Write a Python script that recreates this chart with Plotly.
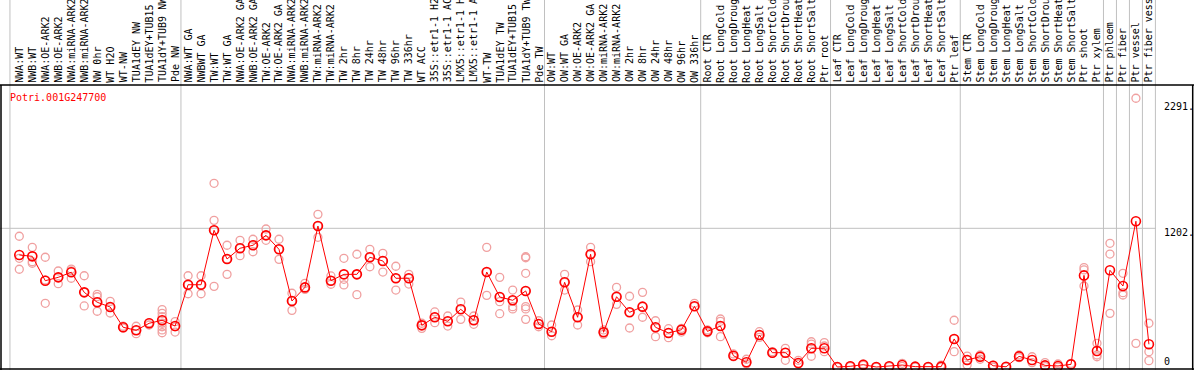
import plotly.graph_objects as go

gene_id = "Potri.001G247700"

categories = [
    "NWA:WT", "NWB:WT", "NWA:OE-ARK2", "NWB:OE-ARK2", "NWA:miRNA-ARK2", "NWB:miRNA-ARK2",
    "NW 0hr", "WT H2O", "WT-NW", "TUA1dEY NW", "TUA1dEY+TUB15", "TUA1dY+TUB9 NW", "Pde NW",
    "NWA:WT GA", "NWBWT GA", "TW:WT", "TW:WT GA", "NWA:OE-ARK2 GA", "NWB:OE-ARK2 GA",
    "TW:OE-ARK2", "TW:OE-ARK2 GA", "NWA:miRNA-ARK2", "NWB:miRNA-ARK2", "TW:miRNA-ARK2",
    "TW:miRNA-ARK2", "TW 2hr", "TW 8hr", "TW 24hr", "TW 48hr", "TW 96hr", "TW 336hr",
    "WT ACC", "35S::etr1-1 H2", "35S::etr1-1 AC", "LMX5::etr1-1 H", "LMX5::etr1-1 A",
    "WT-TW", "TUA1dEY TW", "TUA1dEY+TUB15", "TUA1dY+TUB9 TW", "Pde TW",
    "OW:WT", "OW:WT GA", "OW:OE-ARK2", "OW:OE-ARK2 GA", "OW:miRNA-ARK2", "OW:miRNA-ARK2",
    "OW 2hr", "OW 8hr", "OW 24hr", "OW 48hr", "OW 96hr", "OW 336hr",
    "Root CTR", "Root LongCold", "Root LongDroug", "Root LongHeat", "Root LongSalt",
    "Root ShortCold", "Root ShortDrou", "Root ShortHeat", "Root ShortSalt", "Ptr root",
    "Leaf CTR", "Leaf LongCold", "Leaf LongDroug", "Leaf LongHeat", "Leaf LongSalt",
    "Leaf ShortCold", "Leaf ShortDrou", "Leaf ShortHeat", "Leaf ShortSalt", "Ptr leaf",
    "Stem CTR", "Stem LongCold", "Stem LongDroug", "Stem LongHeat", "Stem LongSalt",
    "Stem ShortCold", "Stem ShortDrou", "Stem ShortHeat", "Stem ShortSalt",
    "Ptr shoot", "Ptr xylem", "Ptr phloem", "Ptr fiber", "Ptr vessel", "Ptr fiber vess",
]

mean_values = [
    971, 959, 748, 777, 821, 647, 561, 520, 344, 318, 379, 405, 355,
    713, 713, 1185, 936, 1029, 1055, 1141, 1020, 572, 690, 1222, 748,
    803, 803, 951, 919, 769, 769, 361, 431, 396, 500, 405, 823, 607,
    578, 659, 373, 306, 734, 431, 977, 301, 609, 474, 523, 344, 295,
    323, 526, 309, 355, 98, 41, 277, 124, 124, 35, 162, 162,
    0, 6, 20, 0, 6, 17, 3, 0, 3, 243,
    61, 89, 11, 2, 92, 61, 14, 9, 23,
    794, 139, 838, 702, 1263, 197,
]

replicate_values = [
    [1133, 942, 847], [1037, 913, 899], [951, 754, 552], [832, 777, 722],
    [849, 832, 769], [791, 647, 529], [630, 609, 561, 483], [569, 520, 468],
    [353, 338], [353, 318, 289], [384, 364], [497, 465, 436, 407, 379, 349, 321, 297],
    [393, 349, 303], [791, 713, 635], [791, 713, 635], [1592, 1271, 1185, 699],
    [1055, 936, 803], [1098, 1029, 965], [1107, 1055, 999], [1196, 1141, 1098],
    [1107, 1020, 933], [639, 572, 491], [725, 690, 673], [1323, 1222, 1124],
    [789, 748, 717], [942, 760, 711], [977, 803, 627], [1020, 951, 869],
    [985, 919, 823], [873, 769, 667], [803, 769, 719], [379, 361, 335],
    [477, 431, 384], [442, 396, 355], [563, 500, 413], [442, 405, 370],
    [1037, 823, 621], [777, 607, 566, 462], [667, 578, 523, 503],
    [956, 947, 812, 659, 523, 503, 413], [401, 373, 349], [364, 306, 271],
    [803, 734, 667], [494, 431, 364], [1037, 977, 913], [321, 301, 283],
    [690, 609, 543], [613, 474, 338], [647, 523, 431], [401, 344, 263],
    [332, 295, 254], [335, 323, 303], [552, 526], [321, 309, 297],
    [416, 396, 355, 263], [113, 89], [67, 26], [306, 277, 257], [133, 119],
    [162, 124, 58], [58, 26], [219, 199, 162, 93], [211, 182, 133],
    [0, 0], [10, 3], [26, 15], [0, 0], [8, 3], [32, 5], [5, 0], [0, 0], [17, 0],
    [405, 243, 133], [95, 61, 17], [104, 89, 67], [17, 0], [0], [104, 81],
    [89, 38], [38, 3], [26, 0], [32],
    [861, 841, 702], [205, 104, 89], [1072, 979, 465], [812, 644, 624],
    [2329, 205], [379, 133, 55],
]

group_boundaries = [-0.72, 12.45, 40.45, 52.48, 62.48, 72.47, 83.5, 84.5, 85.5, 86.5, 87.5]
y_tick_values = [2291, 1202, 0]
y_tick_labels = ["2291.", "1202.", "0"]
gridline_values = [1202]

W, H = 1194, 370
X0, DX = 19.3, 12.984           # pixel of first category, pixel step
Y0, DY = 367.0, 0.11539         # pixel of value 0, pixels per unit
x_range = [-X0 / DX, (W - X0) / DX]
y_range = [(Y0 - H) / DY, Y0 / DY]

def py_to_paper(py):
    return (H - py) / H

FONT = "DejaVu Sans Mono"
xs = list(range(len(categories)))

rep_x, rep_y = [], []
for i, reps in enumerate(replicate_values):
    for v in reps:
        rep_x.append(i)
        rep_y.append(v)

fig = go.Figure()
fig.add_trace(go.Scatter(
    x=rep_x, y=rep_y, mode="markers",
    marker=dict(symbol="circle-open", size=8, color="#F0A0A0", line=dict(width=1.3, color="#F0A0A0")),
    hoverinfo="skip", showlegend=False, cliponaxis=True,
))
fig.add_trace(go.Scatter(
    x=xs, y=mean_values, mode="lines+markers",
    line=dict(color="#FF0000", width=1),
    marker=dict(symbol="circle-open", size=9, color="#FF0000", line=dict(width=1.6, color="#FF0000")),
    showlegend=False,
))

shapes = []
# vertical group separators (full height)
for b in group_boundaries:
    shapes.append(dict(type="line", xref="x", yref="paper", x0=b, x1=b, y0=0, y1=1,
                       line=dict(color="#C0C0C0", width=1), layer="below"))
# horizontal gridline
for g in gridline_values:
    shapes.append(dict(type="line", xref="paper", yref="y", x0=0, x1=1156 / W, y0=g, y1=g,
                       line=dict(color="#C0C0C0", width=1), layer="below"))
# border lines
shapes.append(dict(type="line", xref="paper", yref="paper", x0=0, x1=1,
                   y0=py_to_paper(85), y1=py_to_paper(85), line=dict(color="black", width=1.5)))
shapes.append(dict(type="line", xref="paper", yref="paper", x0=0, x1=1,
                   y0=py_to_paper(369), y1=py_to_paper(369), line=dict(color="black", width=1.5)))
shapes.append(dict(type="line", xref="paper", yref="paper", x0=1 / W, x1=1 / W,
                   y0=py_to_paper(85), y1=py_to_paper(370), line=dict(color="black", width=1.5)))
shapes.append(dict(type="line", xref="paper", yref="paper", x0=1192.7 / W, x1=1192.7 / W,
                   y0=py_to_paper(85), y1=py_to_paper(370), line=dict(color="black", width=1.5)))

annotations = []
for i, lab in enumerate(categories):
    annotations.append(dict(x=i, xref="x", y=py_to_paper(84.5), yref="paper", text=lab,
                            textangle=-90, showarrow=False, xanchor="center", yanchor="bottom",
                            font=dict(family=FONT, size=10, color="black")))
annotations.append(dict(x=8 / W, xref="paper", y=py_to_paper(97), yref="paper", text=gene_id,
                        showarrow=False, xanchor="left", yanchor="middle",
                        font=dict(family=FONT, size=10, color="#FF0000")))
tick_py = [106.7, 232, 361.7]
for lab, tpy in zip(y_tick_labels, tick_py):
    annotations.append(dict(x=1162 / W, xref="paper", y=py_to_paper(tpy), yref="paper", text=lab,
                            showarrow=False, xanchor="left", yanchor="middle",
                            font=dict(family=FONT, size=10, color="black")))

fig.update_layout(
    width=W, height=H, autosize=False,
    margin=dict(l=0, r=0, t=0, b=0, pad=0),
    paper_bgcolor="white", plot_bgcolor="white",
    xaxis=dict(range=x_range, visible=False, showgrid=False, zeroline=False, fixedrange=True),
    yaxis=dict(range=y_range, visible=False, showgrid=False, zeroline=False, fixedrange=True),
    shapes=shapes, annotations=annotations,
)

fig.write_html("out.html", config={"displayModeBar": False},
               post_script="document.body.style.margin='0';document.body.style.overflow='hidden';")
